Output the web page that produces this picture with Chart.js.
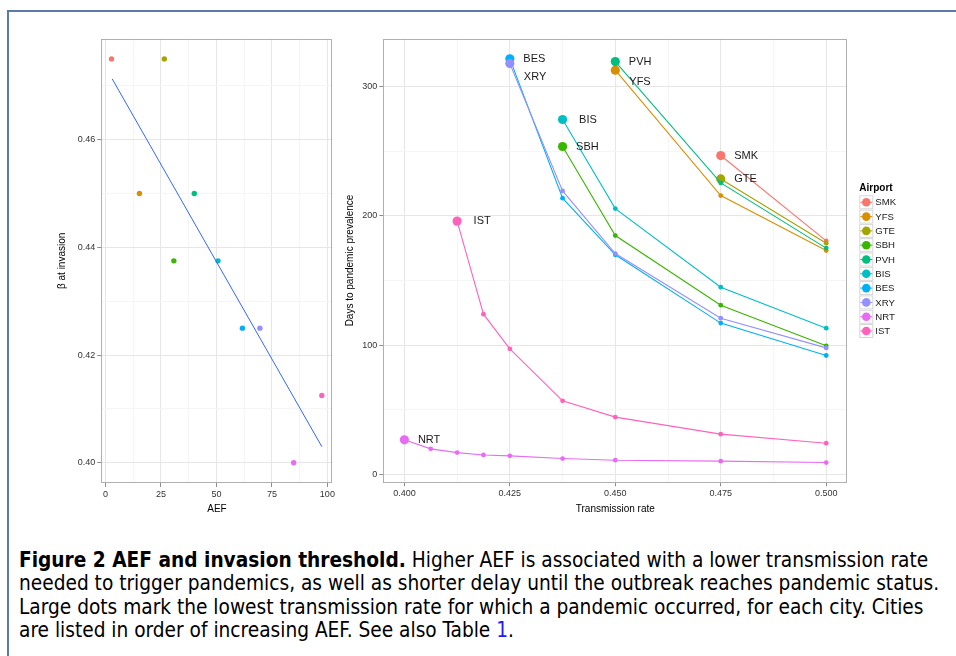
<!DOCTYPE html>
<html><head><meta charset="utf-8">
<script src="https://cdn.jsdelivr.net/npm/chart.js@4"></script>
<style>
html,body{margin:0;padding:0;background:#fff;width:956px;height:656px;overflow:hidden;}
#frame{position:absolute;left:7px;top:10px;width:1000px;height:700px;border-top:2px solid #5b7aa6;border-left:2px solid #5b7aa6;}
#c1{position:absolute;left:40px;top:30px;}
#c2{position:absolute;left:340px;top:30px;}
#cap{position:absolute;left:19px;top:549px;font-family:"DejaVu Sans Condensed","Liberation Sans Narrow","DejaVu Sans",sans-serif;font-size:19px;line-height:23.4px;color:#000;}
#cap div{white-space:nowrap;}
#cap .lnk{color:#1a1aff;}
</style></head>
<body>
<div id="frame"></div>
<canvas id="c1" width="300" height="490"></canvas>
<canvas id="c2" width="616" height="490"></canvas>
<div id="cap">
<div><b>Figure 2 AEF and invasion threshold.</b> Higher AEF is associated with a lower transmission rate</div>
<div>needed to trigger pandemics, as well as shorter delay until the outbreak reaches pandemic status.</div>
<div id="ln3">Large dots mark the lowest transmission rate for which a pandemic occurred, for each city. Cities</div>
<div>are listed in order of increasing AEF. See also Table <span class="lnk">1</span>.</div>
</div>
<script>
// ---------- data ----------
const airports = ['SMK','YFS','GTE','SBH','PVH','BIS','BES','XRY','NRT','IST'];
const airportColors = ['#F8766D','#D89000','#A3A500','#39B600','#00BF7D','#00BFC4','#00B0F6','#9590FF','#E76BF3','#FF62BC'];
const aef = [2.7, 15.3, 26.5, 30.8, 40.0, 50.7, 61.7, 69.6, 84.8, 97.5];
const betaAtInvasion = [0.475, 0.45, 0.475, 0.4375, 0.45, 0.4375, 0.425, 0.425, 0.40, 0.4125];
const fitAEF = [3.0, 97.5];
const fitBeta = [0.4713, 0.4030];

const transmissionRates = [0.4, 0.40625, 0.4125, 0.41875, 0.425, 0.4375, 0.45, 0.475, 0.5];
const daysSMK = [null, null, null, null, null, null, null, 246.8, 180.7];
const daysYFS = [null, null, null, null, null, null, 312.9, 215.8, 173.2];
const daysGTE = [null, null, null, null, null, null, null, 228.7, 178.9];
const daysSBH = [null, null, null, null, null, 253.8, 184.8, 130.9, 99.4];
const daysPVH = [null, null, null, null, null, null, 319.6, 225.6, 175.1];
const daysBIS = [null, null, null, null, null, 274.7, 205.7, 144.8, 113.1];
const daysBES = [null, null, null, null, 321.7, 213.8, 169.9, 117.0, 91.9];
const daysXRY = [null, null, null, null, 318.0, 219.4, 170.9, 120.8, 97.8];
const daysNRT = [26.6, 19.6, 16.7, 14.9, 14.2, 12.1, 10.8, 10.1, 9.0];
const daysIST = [null, null, 196.0, 123.9, 97.1, 56.8, 44.2, 31.0, 24.0];
const daysByAirport = [daysSMK, daysYFS, daysGTE, daysSBH, daysPVH, daysBIS, daysBES, daysXRY, daysNRT, daysIST];

const aefTicks = [0, 25, 50, 75, 100];
const aefTickLabels = ['0', '25', '50', '75', '100'];
const aefMinor = [12.5, 37.5, 62.5, 87.5];
const betaTicks = [0.40, 0.42, 0.44, 0.46];
const betaTickLabels = ['0.40', '0.42', '0.44', '0.46'];
const betaMinor = [0.41, 0.43, 0.45, 0.47];
const rateTicks = [0.4, 0.425, 0.45, 0.475, 0.5];
const rateTickLabels = ['0.400', '0.425', '0.450', '0.475', '0.500'];
const rateMinor = [0.4125, 0.4375, 0.4625, 0.4875];
const daysTicks = [0, 100, 200, 300];
const daysTickLabels = ['0', '100', '200', '300'];
const daysMinor = [50, 150, 250];

// ---------- styling helpers ----------
Chart.defaults.font.family = "'Liberation Sans', Arial, sans-serif";
Chart.defaults.color = '#333';
const MAJOR = '#e6e6e6', MINOR = '#f5f5f5', TICKC = '#8c8c8c', BORDER = '#b0b0b0';

function near(a, b){ return Math.abs(a - b) < 1e-9; }
function axisCfg(majors, labels, minors, range, title, titlePad, fixed, horizontal){
  return {
    type: 'linear', min: range[0], max: range[1],
    afterBuildTicks: s => { s.ticks = majors.concat(minors).sort((a,b)=>a-b).map(v => ({value: v})); },
    afterFit: s => { if (horizontal) s.height = fixed; else s.width = fixed; },
    ticks: {
      autoSkip: false, maxRotation: 0, padding: 2, color: '#333', font: {size: 9},
      callback: (v) => { const i = majors.findIndex(m => near(m, v)); return i >= 0 ? labels[i] : ''; }
    },
    grid: {
      color: c => (c.tick && majors.some(m => near(m, c.tick.value))) ? MAJOR : MINOR,
      tickColor: c => (c.tick && majors.some(m => near(m, c.tick.value))) ? TICKC : 'rgba(0,0,0,0)',
      lineWidth: 1, tickLength: 4, drawTicks: true
    },
    border: {display: false},
    title: {display: true, text: title, color: '#000', font: {size: 10}, padding: titlePad}
  };
}
const panelBorder = {
  id: 'panelBorder',
  afterDatasetsDraw(chart){
    const a = chart.chartArea, c = chart.ctx;
    c.save(); c.strokeStyle = BORDER; c.lineWidth = 1;
    c.strokeRect(Math.round(a.left) + 0.5, Math.round(a.top) + 0.5, Math.round(a.right - a.left) - 1, Math.round(a.bottom - a.top) - 1);
    c.restore();
  }
};

// ---------- left chart ----------
new Chart(document.getElementById('c1'), {
  type: 'scatter',
  data: {
    datasets: [
      { type: 'scatter', label: 'Airports', data: aef.map((x, i) => ({x, y: betaAtInvasion[i]})),
        pointBackgroundColor: airportColors, pointBorderWidth: 0, pointRadius: 2.7, order: 1 },
      { type: 'line', label: 'fit', data: fitAEF.map((x, i) => ({x, y: fitBeta[i]})),
        borderColor: '#3366FF', borderWidth: 1, pointRadius: 0, fill: false, order: 0 }
    ]
  },
  options: {
    responsive: false, animation: false,
    layout: {padding: {left: 0, right: 7.3, top: 8.7, bottom: 0}},
    plugins: {legend: {display: false}, tooltip: {enabled: false}},
    scales: {
      x: axisCfg(aefTicks, aefTickLabels, aefMinor, [-1.9, 102.4], 'AEF', {top: 0, bottom: 4.6}, 37, true),
      y: axisCfg(betaTicks, betaTickLabels, betaMinor, [0.39625, 0.47875], 'β at invasion', {top: 16.3, bottom: 0}, 61.3, false)
    }
  },
  plugins: [panelBorder]
});

// ---------- right chart ----------
const labelOffsets = {XRY: [14, 13.6], YFS: [14, 11.4], BIS: [16.5, 0], IST: [16.5, 0]};
const pointLabels = {
  id: 'pointLabels',
  afterDatasetsDraw(chart){
    const c = chart.ctx;
    c.save(); c.font = "11px 'Liberation Sans', Arial, sans-serif"; c.fillStyle = '#1a1a1a';
    c.textBaseline = 'middle'; c.textAlign = 'left';
    chart.data.datasets.forEach((ds, i) => {
      const p = chart.getDatasetMeta(i).data[0];
      const off = labelOffsets[ds.label] || [13.5, 0];
      c.fillText(ds.label, p.x + off[0], p.y + off[1]);
    });
    c.restore();
  }
};
const legendPlugin = {
  id: 'ggLegend',
  afterDraw(chart){
    const c = chart.ctx, x0 = chart.chartArea.right + 12;
    c.save();
    c.textBaseline = 'middle'; c.textAlign = 'left'; c.fillStyle = '#000';
    c.font = "bold 10px 'Liberation Sans', Arial, sans-serif";
    c.fillText('Airport', x0, 158.3);
    c.font = "9.6px 'Liberation Sans', Arial, sans-serif";
    airports.forEach((name, i) => {
      const cy = 172.3 + 14.3 * i;
      c.fillStyle = '#fff'; c.fillRect(x0, cy - 7, 14, 14);
      c.strokeStyle = '#d6d6d6'; c.lineWidth = 1; c.strokeRect(x0 + 0.5, cy - 6.5, 13, 13);
      c.strokeStyle = airportColors[i]; c.beginPath(); c.moveTo(x0 + 1, cy); c.lineTo(x0 + 13, cy); c.stroke();
      c.fillStyle = airportColors[i]; c.beginPath(); c.arc(x0 + 7, cy, 4.3, 0, Math.PI * 2); c.fill();
      c.fillStyle = '#1a1a1a'; c.fillText(name, x0 + 16, cy + 0.5);
    });
    c.restore();
  }
};

new Chart(document.getElementById('c2'), {
  type: 'line',
  data: {
    datasets: airports.map((name, i) => ({
      label: name,
      data: transmissionRates.map((x, j) => ({x, y: daysByAirport[i][j]})).filter(p => p.y !== null),
      borderColor: airportColors[i], backgroundColor: airportColors[i],
      pointBackgroundColor: airportColors[i], pointBorderWidth: 0,
      pointRadius: c => c.dataIndex === 0 ? 4.6 : 2.4,
      borderWidth: 1.1, tension: 0, fill: false, order: -i
    }))
  },
  options: {
    responsive: false, animation: false,
    layout: {padding: {left: 0, right: 108.7, top: 8.7, bottom: 0}},
    plugins: {legend: {display: false}, tooltip: {enabled: false}},
    scales: {
      x: axisCfg(rateTicks, rateTickLabels, rateMinor, [0.395, 0.505], 'Transmission rate', {top: 0, bottom: 4.6}, 37.7, true),
      y: axisCfg(daysTicks, daysTickLabels, daysMinor, [-6.3, 337.3], 'Days to pandemic prevalence', {top: 4.3, bottom: 0}, 43.3, false)
    }
  },
  plugins: [panelBorder, pointLabels, legendPlugin]
});

// ---------- caption sizing ----------
(function(){
  const cap = document.getElementById('cap');
  const w = document.getElementById('ln3').getBoundingClientRect().width;
  const size = 19 * 921 / w;
  cap.style.fontSize = size.toFixed(2) + 'px';
})();
</script>
</body></html>
